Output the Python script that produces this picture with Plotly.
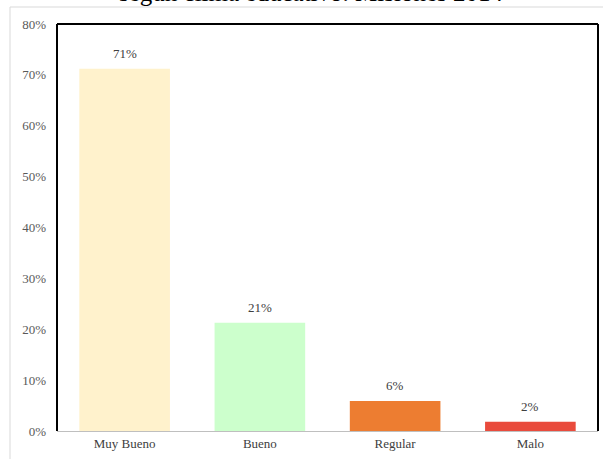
import plotly.graph_objects as go

categories = ["Muy Bueno", "Bueno", "Regular", "Malo"]
values = [0.712, 0.213, 0.059, 0.018]
colors = ["#FFF2CC", "#CCFFCC", "#ED7D31", "#E94B3C"]
y_ticks = [0, 0.1, 0.2, 0.3, 0.4, 0.5, 0.6, 0.7, 0.8]

SERIF = "Liberation Serif, Times New Roman, serif"
W, H = 603, 459
L, R, T, B = 57, 5, 24, 28
pw, ph = W - L - R, H - T - B


def px_x(p):
    return (p - L) / pw


def px_y(p):
    return (H - B - p) / ph


fig = go.Figure()
fig.add_trace(go.Bar(
    x=categories,
    y=values,
    marker=dict(color=colors, line=dict(width=0)),
    hoverinfo="x+y",
))

# data labels
for cat, val in zip(categories, values):
    fig.add_annotation(
        x=cat, y=val, text=f"{val:.0%}", showarrow=False,
        yanchor="bottom", yshift=6,
        font=dict(size=13, color="#404040", family=SERIF),
    )

# outer chart frame (light gray)
fig.add_shape(type="rect", xref="paper", yref="paper",
              x0=px_x(10), x1=px_x(640), y0=px_y(500), y1=px_y(7),
              line=dict(color="#D9D9D9", width=1), layer="below")
# black plot border: left, top, right
for x0, y0, x1, y1 in [(0, 0, 0, 1), (0, 1, 1, 1), (1, 0, 1, 1)]:
    fig.add_shape(type="line", xref="paper", yref="paper",
                  x0=x0, y0=y0, x1=x1, y1=y1,
                  line=dict(color="black", width=2))

# title, partly cut off at the top edge as in the source
fig.add_annotation(
    text="según clima educativo. Misiones 2014",
    xref="paper", yref="paper", x=px_x(311), y=px_y(8),
    xanchor="center", yanchor="bottom", showarrow=False,
    font=dict(size=25, color="black", family=SERIF),
)

fig.update_layout(
    width=W, height=H,
    margin=dict(l=L, r=R, t=T, b=B),
    plot_bgcolor="white", paper_bgcolor="white",
    bargap=0.33,
    showlegend=False,
    font=dict(family=SERIF, size=13, color="#595959"),
)
fig.update_xaxes(showline=True, linecolor="#BFBFBF", linewidth=1, ticks="",
                 tickfont=dict(size=13, color="#404040"), showgrid=False)
fig.update_yaxes(range=[0, 0.8], tickvals=y_ticks, tickformat=".0%",
                 showgrid=False, zeroline=False, ticks="",
                 ticklabelstandoff=10,
                 tickfont=dict(size=13, color="#595959"))

fig.write_html("out.html", config={"displayModeBar": False},
               post_script="document.body.style.margin='0';")
